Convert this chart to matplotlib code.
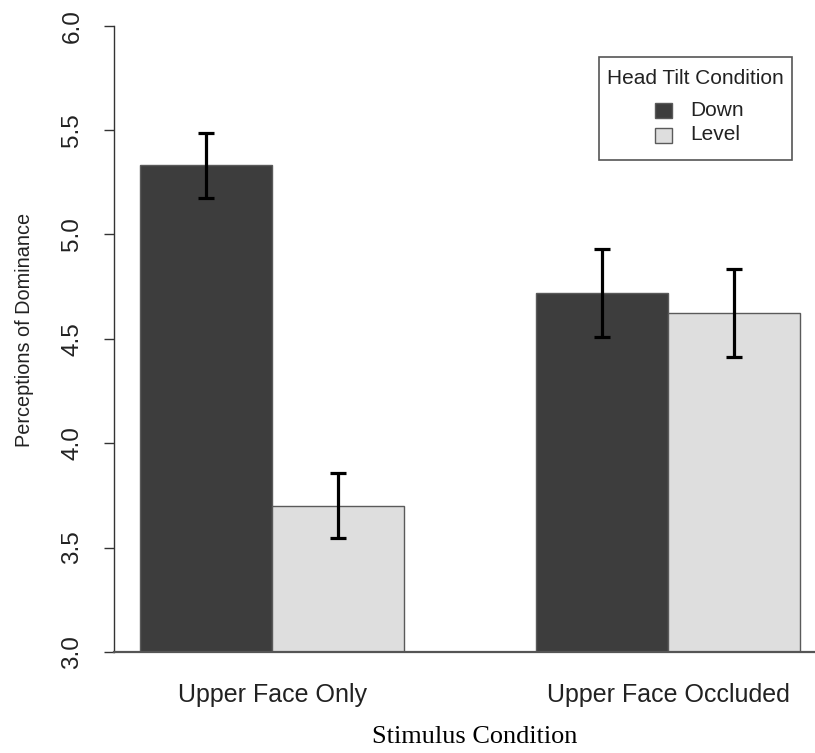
#!/usr/bin/python3

import numpy as np
from matplotlib import pyplot as plt
from matplotlib.patches import Rectangle

# Values
groups = ['Upper Face Only', 'Upper Face Occluded']
tilts = ['Down', 'Level']
means_down = [5.33, 4.72]
means_level = [3.70, 4.625]
err_down = [0.155, 0.21]
err_level = [0.155, 0.21]
yticks = [3.0, 3.5, 4.0, 4.5, 5.0, 5.5, 6.0]

dark = '#3d3d3d'
light = '#dedede'
edge = '#5a5a5a'

plt.rcParams['font.family'] = ['Liberation Sans', 'DejaVu Sans']

fig = plt.figure(figsize=(8.15, 7.53), dpi=100)
W, H = 815, 753
# axes box in pixels: left 114, right 815, bottom 652, top 25.6
ax = fig.add_axes([114 / W, (H - 652) / H, (815 - 114) / W, (652 - 25.6) / H])

# bars beside each other, one bar width gap between groups (like R barplot)
x_down = np.array([0.5, 3.5])
x_level = x_down + 1
ax.bar(x_down, [m - 3 for m in means_down], bottom=3, width=1, color=dark,
       edgecolor=edge, linewidth=1)
ax.bar(x_level, [m - 3 for m in means_level], bottom=3, width=1, color=light,
       edgecolor=edge, linewidth=1)

ax.errorbar(x_down, means_down, yerr=err_down, fmt='none', ecolor='black',
            elinewidth=2.3, capsize=5.5, capthick=2.3)
ax.errorbar(x_level, means_level, yerr=err_level, fmt='none', ecolor='black',
            elinewidth=2.3, capsize=5.5, capthick=2.3)

ax.set_xlim(-0.2, 5.11)
ax.set_ylim(3, 6)

for s in ['top', 'right']:
    ax.spines[s].set_visible(False)
ax.spines['left'].set_color('#333333')
ax.spines['bottom'].set_color('#555555')
ax.spines['left'].set_linewidth(1)
ax.spines['bottom'].set_linewidth(1.6)

ax.set_yticks(yticks)
ax.set_yticklabels(['%.1f' % v for v in yticks], rotation=90, va='center',
                   fontsize=17.5, color='#222222')
ax.tick_params(axis='y', length=7, width=1, pad=15, color='#333333')

ax.set_xticks([1.0, 4.0])
ax.set_xticklabels(groups, fontsize=18, color='#222222')
ax.tick_params(axis='x', length=0, pad=22)

fig.text(25 / W, 1 - 330 / H, 'Perceptions of Dominance', rotation=90,
         fontsize=14.3, color='#222222', ha='center', va='center')
fig.text(475 / W, 1 - 737 / H, 'Stimulus Condition',
         family='Liberation Serif', fontsize=18.9, ha='center', va='center')

# legend drawn by hand, R style: centred title, small squares
def px(x, y):
    return x / W, 1 - y / H

fig.patches.append(Rectangle(px(599, 160), 193 / W, 103 / H, transform=fig.transFigure,
                             facecolor='white', edgecolor='#555555', linewidth=1.2))
fig.text(*px(695.5, 78), 'Head Tilt Condition', fontsize=15, color='#222222',
         ha='center', va='center')
for i, (name, col) in enumerate(zip(tilts, [dark, light])):
    yc = 110 + 25 * i
    fig.patches.append(Rectangle(px(655, yc + 7.5), 17 / W, 15 / H,
                                 transform=fig.transFigure, facecolor=col,
                                 edgecolor=edge, linewidth=1))
    fig.text(*px(690, yc), name, fontsize=15, color='#222222', ha='left',
             va='center')

fig.savefig('out.png', dpi=100)
